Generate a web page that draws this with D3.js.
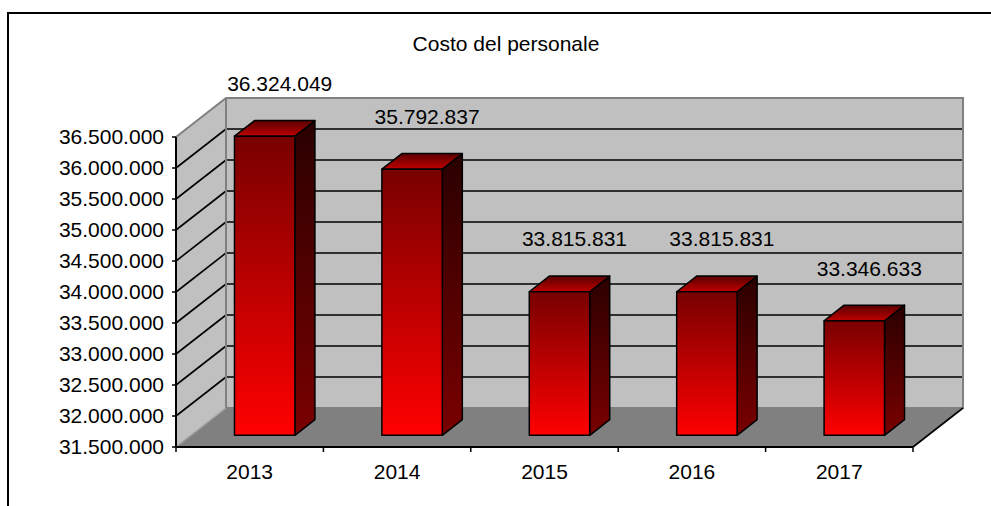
<!DOCTYPE html>
<html>
<head>
<meta charset="utf-8">
<script src="https://cdn.jsdelivr.net/npm/d3@7"></script>
<style>
  body { margin: 0; background: #fff; }
  svg { display: block; font-family: "Liberation Sans", Arial, sans-serif; }
</style>
</head>
<body>
<svg id="chart" width="991" height="506"></svg>
<script>
const years = ["2013", "2014", "2015", "2016", "2017"];
const costs = [36324049, 35792837, 33815831, 33815831, 33346633];
const yTicks = [31500000, 32000000, 32500000, 33000000, 33500000, 34000000, 34500000, 35000000, 35500000, 36000000, 36500000];
const title = "Costo del personale";

const svg = d3.select("#chart");
const fmt = d3.formatLocale({ decimal: ",", thousands: ".", grouping: [3], currency: ["", "€"] }).format(",d");

// front plane of the plot + 3d depth offset
const front = { left: 176, right: 913, top: 137, bottom: 447 };
const depth = { dx: 50, dy: -39 };
const barZ = [0.3, 0.7];

const x = d3.scaleBand().domain(years).range([front.left, front.right])
  .paddingInner(0.59).paddingOuter(0.295);
const xCat = d3.scaleBand().domain(years).range([front.left, front.right]);
const y = d3.scaleLinear().domain([31500000, 36500000]).range([front.bottom, front.top]);

const shift = (p, z) => [p[0] + depth.dx * z, p[1] + depth.dy * z];
const poly = pts => "M" + pts.map(p => p.join(",")).join("L") + "Z";

// outer border
svg.append("rect")
  .attr("x", 8).attr("y", 13).attr("width", 1000).attr("height", 520)
  .attr("fill", "none").attr("stroke", "#000").attr("stroke-width", 2);

svg.append("text")
  .attr("x", 506).attr("y", 51)
  .attr("text-anchor", "middle").attr("font-size", 21)
  .text(title);

// gradients
const defs = svg.append("defs");
const grad = (id, stops) => {
  const g = defs.append("linearGradient").attr("id", id)
    .attr("x1", 0).attr("y1", 0).attr("x2", 0).attr("y2", 1);
  stops.forEach(([o, c]) => g.append("stop").attr("offset", o).attr("stop-color", c));
};
grad("gFront", [[0, "#780000"], [1, "#ff0000"]]);
grad("gSide", [[0, "#2a0000"], [1, "#7a0000"]]);
grad("gTop", [[0, "#5a0000"], [1, "#c00000"]]);

// walls
const yMin = y.domain()[0], yMax = y.domain()[1];
const FL = [front.left, y(yMin)], FR = [front.right, y(yMin)];
const TL = [front.left, y(yMax)];
const walls = svg.append("g");
// floor
walls.append("path")
  .attr("d", poly([FL, FR, shift(FR, 1), shift(FL, 1)]))
  .attr("fill", "#808080");
// side wall
walls.append("path")
  .attr("d", poly([FL, TL, shift(TL, 1), shift(FL, 1)]))
  .attr("fill", "#c0c0c0");
// back wall
walls.append("path")
  .attr("d", poly([shift(FL, 1), shift(TL, 1), shift([front.right, y(yMax)], 1), shift(FR, 1)]))
  .attr("fill", "#c0c0c0");

// gridlines
const inner = yTicks.filter(t => t > yMin && t < yMax);
walls.selectAll(".grid-back").data(inner).enter().append("line")
  .attr("x1", front.left + depth.dx).attr("x2", front.right + depth.dx)
  .attr("y1", d => y(d) + depth.dy).attr("y2", d => y(d) + depth.dy)
  .attr("stroke", "#000").attr("stroke-width", 1.6);
walls.selectAll(".grid-side").data(inner).enter().append("line")
  .attr("x1", front.left).attr("y1", d => y(d))
  .attr("x2", front.left + depth.dx).attr("y2", d => y(d) + depth.dy)
  .attr("stroke", "#000").attr("stroke-width", 1.6);

// wall borders (gray)
walls.append("path")
  .attr("d", "M" + [TL, shift(TL, 1), shift([front.right, y(yMax)], 1), shift(FR, 1), shift(FL, 1)].map(p => p.join(",")).join("L"))
  .attr("fill", "none").attr("stroke", "#808080").attr("stroke-width", 2);
walls.append("line")
  .attr("x1", shift(TL, 1)[0]).attr("y1", shift(TL, 1)[1])
  .attr("x2", shift(FL, 1)[0]).attr("y2", shift(FL, 1)[1])
  .attr("stroke", "#808080").attr("stroke-width", 2);
walls.append("line")
  .attr("x1", FL[0]).attr("y1", FL[1]).attr("x2", shift(FL, 1)[0]).attr("y2", shift(FL, 1)[1])
  .attr("stroke", "#a0a0a0").attr("stroke-width", 1.5);
walls.append("line")
  .attr("x1", FR[0]).attr("y1", FR[1]).attr("x2", shift(FR, 1)[0]).attr("y2", shift(FR, 1)[1])
  .attr("stroke", "#000").attr("stroke-width", 1.6);

// bars
const data = years.map((yr, i) => ({ year: yr, value: costs[i] }));
const bars = svg.selectAll(".bar").data(data).enter().append("g").attr("class", "bar");
const corners = d => {
  const x0 = x(d.year), x1 = x(d.year) + x.bandwidth();
  const b0 = y(yMin), t0 = y(d.value);
  return {
    fbl: shift([x0, b0], barZ[0]), fbr: shift([x1, b0], barZ[0]),
    ftl: shift([x0, t0], barZ[0]), ftr: shift([x1, t0], barZ[0]),
    bbr: shift([x1, b0], barZ[1]), btl: shift([x0, t0], barZ[1]), btr: shift([x1, t0], barZ[1])
  };
};
bars.append("path")
  .attr("d", d => { const c = corners(d); return poly([c.fbr, c.ftr, c.btr, c.bbr]); })
  .attr("fill", "url(#gSide)").attr("stroke", "#000").attr("stroke-width", 1.5)
  .attr("stroke-linejoin", "round");
bars.append("path")
  .attr("d", d => { const c = corners(d); return poly([c.ftl, c.btl, c.btr, c.ftr]); })
  .attr("fill", "url(#gTop)").attr("stroke", "#000").attr("stroke-width", 1.5)
  .attr("stroke-linejoin", "round");
bars.append("path")
  .attr("d", d => { const c = corners(d); return poly([c.fbl, c.ftl, c.ftr, c.fbr]); })
  .attr("fill", "url(#gFront)").attr("stroke", "#000").attr("stroke-width", 1.5)
  .attr("stroke-linejoin", "round");

// value labels
svg.selectAll(".val").data(data).enter().append("text")
  .attr("x", d => xCat(d.year) + xCat.bandwidth() / 2 + 30)
  .attr("y", d => y(d.value) - 57)
  .attr("text-anchor", "middle").attr("font-size", 21)
  .text(d => fmt(d.value));

// y axis
const yAxis = svg.append("g");
yAxis.append("line")
  .attr("x1", front.left).attr("x2", front.left)
  .attr("y1", y(yMin)).attr("y2", y(yMax))
  .attr("stroke", "#000").attr("stroke-width", 2);
yAxis.selectAll(".yt").data(yTicks).enter().append("line")
  .attr("x1", front.left - 4).attr("x2", front.left)
  .attr("y1", d => y(d)).attr("y2", d => y(d))
  .attr("stroke", "#000").attr("stroke-width", 1.5);
yAxis.selectAll(".yl").data(yTicks).enter().append("text")
  .attr("x", 164).attr("y", d => y(d)).attr("dy", "0.35em")
  .attr("text-anchor", "end").attr("font-size", 21)
  .text(d => fmt(d));

// x axis
const xAxis = svg.append("g");
xAxis.append("line")
  .attr("x1", front.left).attr("x2", front.right)
  .attr("y1", y(yMin)).attr("y2", y(yMin))
  .attr("stroke", "#000").attr("stroke-width", 2);
const bounds = years.map(d => xCat(d)).concat([front.right]);
xAxis.selectAll(".xt").data(bounds).enter().append("line")
  .attr("x1", d => d).attr("x2", d => d)
  .attr("y1", y(yMin)).attr("y2", y(yMin) + 5)
  .attr("stroke", "#000").attr("stroke-width", 1.5);
xAxis.selectAll(".xl").data(years).enter().append("text")
  .attr("x", d => xCat(d) + xCat.bandwidth() / 2).attr("y", 479)
  .attr("text-anchor", "middle").attr("font-size", 21)
  .text(d => d);
</script>
</body>
</html>
